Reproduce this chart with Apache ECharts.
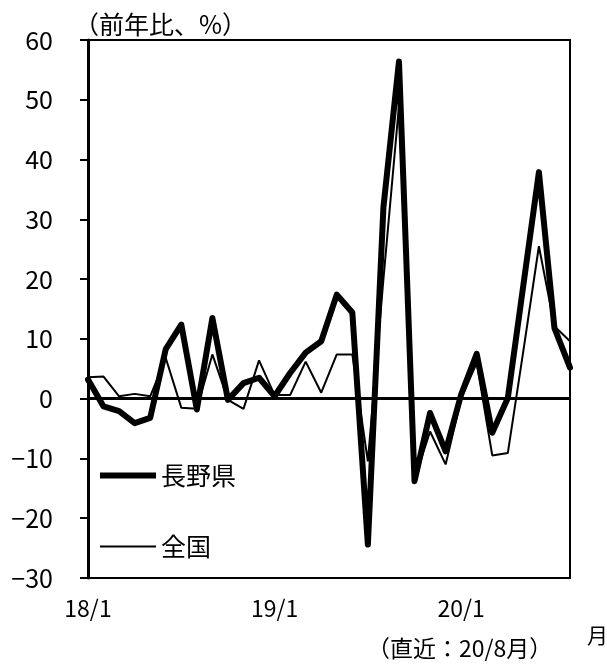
<!DOCTYPE html>
<html>
<head>
<meta charset="utf-8">
<script src="https://cdn.jsdelivr.net/npm/echarts@6/dist/echarts.min.js"></script>
<style>
html,body{margin:0;padding:0;background:#fff;}
#c{width:607px;height:666px;}
</style>
</head>
<body>
<div id="c"></div>
<script>
const categories = ['18/1','18/2','18/3','18/4','18/5','18/6','18/7','18/8','18/9','18/10','18/11','18/12',
  '19/1','19/2','19/3','19/4','19/5','19/6','19/7','19/8','19/9','19/10','19/11','19/12',
  '20/1','20/2','20/3','20/4','20/5','20/6','20/7','20/8'];
const shownLabels = ['18/1','19/1','20/1'];
const nagano = [3.2, -1.3, -2.1, -4.1, -3.2, 8.3, 12.4, -1.8, 13.5, -0.2, 2.6, 3.5,
  0.4, 4.3, 7.7, 9.6, 17.4, 14.4, -24.4, 32, 56.4, -13.8, -2.4, -8.8,
  0.7, 7.5, -5.7, 0.1, 19, 37.9, 11.8, 5.2];
const national = [3.6, 3.7, 0.4, 0.8, 0.4, 6.8, -1.5, -1.7, 7.4, -0.2, -1.7, 6.4,
  0.6, 0.6, 6.2, 1.0, 7.4, 7.4, -10.5, 20, 49, -13.5, -5.5, -11,
  0, 6, -9.5, -9.1, 8, 25.5, 12.1, 9.6];
const seriesNames = ['長野県', '全国'];

const FONT = '"Noto Sans CJK JP", sans-serif';
const chart = echarts.init(document.getElementById('c'), null, {renderer: 'canvas'});
chart.setOption({
  animation: false,
  backgroundColor: '#fff',
  textStyle: {fontFamily: FONT, color: '#000'},
  grid: {left: 88, right: 37, top: 40, bottom: 88, show: true, borderColor: '#000', borderWidth: 2, backgroundColor: 'transparent'},
  legend: {
    orient: 'vertical', left: 95, top: 457, itemGap: 44, itemWidth: 56, itemHeight: 14,
    textStyle: {fontFamily: FONT, fontSize: 25, lineHeight: 27, color: '#000'},
    data: [
      {name: seriesNames[0], icon: 'path://M0,0L56,0L56,6L0,6Z'},
      {name: seriesNames[1], icon: 'path://M0,0L56,0L56,2L0,2Z'}
    ]
  },
  graphic: [
    {type: 'text', left: 74, top: 12, style: {text: '（前年比、%）', font: '25px ' + FONT, fill: '#000'}},
    {type: 'text', left: 587, top: 625, style: {text: '月', font: '21px ' + FONT, fill: '#000'}},
    {type: 'text', left: 367, top: 637, style: {text: '（直近：20/8月）', font: '23px ' + FONT, fill: '#000'}}
  ],
  xAxis: {
    type: 'category', data: categories, boundaryGap: false,
    axisLine: {show: true, onZero: false, lineStyle: {color: '#000', width: 2}},
    axisTick: {show: false},
    axisLabel: {
      interval: 0, margin: 19, fontSize: 23, color: '#000', fontFamily: FONT,
      formatter: v => shownLabels.includes(v) ? v : ''
    },
    splitLine: {show: false}
  },
  yAxis: {
    type: 'value', min: -30, max: 60, interval: 10,
    axisLine: {show: true, lineStyle: {color: '#000', width: 3}},
    axisTick: {show: true, inside: false, length: 8, lineStyle: {color: '#000', width: 2}},
    axisLabel: {margin: 35, fontSize: 25, color: '#000', fontFamily: FONT,
      formatter: v => String(v).replace('-', '−')},
    splitLine: {show: false}
  },
  series: [
    {
      name: seriesNames[1], type: 'line', data: national, symbol: 'none', z: 2,
      lineStyle: {color: '#000', width: 2}, itemStyle: {color: '#000'},
      markLine: {silent: true, symbol: 'none', label: {show: false},
        lineStyle: {color: '#000', width: 3, type: 'solid'}, data: [{yAxis: 0}]}
    },
    {
      name: seriesNames[0], type: 'line', data: nagano, symbol: 'none', z: 3,
      lineStyle: {color: '#000', width: 6, join: 'round', cap: 'round'}, itemStyle: {color: '#000'}
    }
  ]
});
</script>
</body>
</html>
